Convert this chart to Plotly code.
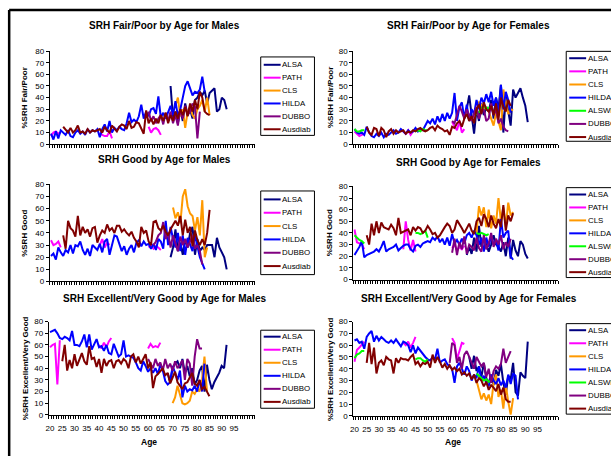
import plotly.graph_objects as go

W, H = 611, 461
FONT = "Liberation Sans, Arial, sans-serif"

TICK_AGES = list(range(20, 100, 5))
Y_TICKS = list(range(0, 90, 10))
SERIES = ["ALSA", "PATH", "CLS", "HILDA", "ALSWH", "DUBBO", "Ausdiab"]
COLORS = {"ALSA": "#000080", "PATH": "#FF00FF", "CLS": "#FF9900", "HILDA": "#0000FF",
          "ALSWH": "#00FF00", "DUBBO": "#800080", "Ausdiab": "#800000"}

# ---------- Males, Fair/Poor (segments: (first age, values)) ----------
m_fp_alsa = [(69, [50, 22, 28, 18, 30, 20, 35, 25, 30, 22, 38, 40, 45, 42, 46, 35, 44, 46, 48, 28, 30, 40, 38, 30])]
m_fp_path = [(20, [7, 10, 11, 9, 10]), (40, [10, 8, 7, 7, 11, 5]), (60, [15, 10, 13, 14, 12, 8])]
m_fp_cls = [(70, [28, 33, 40, 24, 30, 14, 28, 32, 25, 22, 30, 33, 38, 28, 40, 25])]
m_fp_hilda = [(20, [9, 4, 11, 5, 12, 10, 8, 12, 7, 6, 10, 12, 9, 11, 8, 13, 10, 12, 11, 13,
                    6, 13, 17, 11, 20, 10, 14, 12, 15, 13, 12, 18, 27, 19, 21, 19, 24, 34, 22, 28,
                    24, 30, 31, 26, 41, 23, 27, 22, 28, 33, 25, 37, 24, 30, 40, 50, 54, 48, 42, 45,
                    44, 47, 58, 45])]
m_fp_dubbo = [(60, [28, 20, 24, 18, 22, 25, 17, 27, 20, 28, 18, 25, 16, 30, 22, 33, 25, 28, 35, 32, 5, 28])]
m_fp_ausdiab = [(25, [15, 12, 10, 14, 10, 12, 16, 10, 11, 9, 13, 10, 12, 11, 12, 13, 10, 15, 12, 10,
                      16, 13, 11, 15, 17, 16, 13, 20, 14, 15, 19, 18, 14, 9, 29, 18, 22, 17, 22, 18,
                      25, 20, 27, 18, 25, 20, 28, 22, 30, 25, 32, 24, 35, 28, 38, 30, 45, 40, 28, 26, 25])]

# ---------- Females, Fair/Poor ----------
f_fp_alsa = [(66, [30, 42, 25, 9, 30, 20, 35, 25, 32, 28, 38, 22, 40, 30, 51, 10, 41, 30, 16, 47,
                   40, 44, 48, 40, 33, 19])]
f_fp_path = [(20, [11, 9, 7, 8, 9]), (40, [11, 9, 12, 8, 11]), (60, [19, 15, 12, 20, 10, 13])]
f_fp_cls = [(70, [33, 36, 34, 30, 31, 28, 22, 16, 27, 20, 12, 47, 35, 26, 30, 29])]
f_fp_hilda = [(20, [13, 10, 9, 10, 8, 15, 10, 7, 6, 9, 7, 10, 6, 9, 8, 10, 12, 9, 10, 13,
                    11, 9, 12, 10, 11, 14, 11, 13, 12, 16, 20, 18, 22, 17, 24, 19, 26, 20, 27, 22,
                    27, 44, 20, 32, 36, 22, 34, 20, 30, 26, 38, 30, 40, 35, 43, 36, 45, 33, 40, 25,
                    51, 30, 45, 38, 27])]
f_fp_alswh = [(20, [13, 11, 11, 12, 12]), (45, [11, 12, 11, 13, 12, 12]), (70, [25, 28, 31, 33, 30, 32])]
f_fp_dubbo = [(60, [20, 18, 25, 33, 28, 22, 30, 25, 20, 26, 32, 22, 28, 30, 20, 22, 35, 25, 30, 18, 22, 15, 12, 11])]
f_fp_ausdiab = [(25, [15, 10, 8, 14, 13, 7, 14, 12, 6, 11, 13, 9, 12, 10, 11, 12, 9, 11, 10, 12,
                      11, 13, 14, 12, 11, 12, 14, 15, 12, 16, 14, 13, 11, 12, 8, 15, 14, 18, 20, 15,
                      22, 26, 20, 24, 18, 30, 34, 26, 36, 30, 28, 33, 25, 35, 21, 40, 32, 28, 38, 33])]

# ---------- Males, Good ----------
m_g_alsa = [(69, [20, 28, 43, 25, 32, 22, 35, 28, 40, 45, 22, 35, 25, 28, 26, 30, 30, 30, 20, 36, 28, 24, 20, 10])]
m_g_path = [(20, [34, 30, 31, 33, 28]), (40, [30, 35, 28, 32, 30]), (60, [28, 30, 27, 29, 28, 26])]
m_g_cls = [(70, [61, 52, 57, 48, 70, 76, 62, 56, 54, 42, 53, 38, 67, 20, 28])]
m_g_hilda = [(20, [21, 23, 18, 28, 24, 21, 26, 24, 30, 23, 30, 29, 33, 26, 22, 27, 21, 30, 28, 26,
                   31, 24, 33, 35, 22, 31, 38, 37, 30, 25, 29, 22, 27, 30, 24, 32, 34, 29, 33, 30,
                   31, 27, 31, 26, 35, 33, 27, 50, 30, 45, 35, 28, 40, 25, 38, 22, 36, 30, 25, 38,
                   30, 20, 15, 10])]
m_g_dubbo = [(62, [30, 33, 38, 40, 49, 35, 40, 28, 38, 32, 25, 37, 30, 35, 28, 33, 38, 27, 30, 25, 14])]
m_g_ausdiab = [(25, [38, 27, 50, 44, 42, 37, 54, 38, 45, 40, 43, 37, 44, 45, 32, 38, 42, 40, 47, 42,
                     44, 40, 46, 46, 41, 43, 40, 38, 41, 36, 33, 28, 45, 40, 42, 33, 30, 49, 50, 44,
                     42, 46, 41, 38, 43, 47, 50, 46, 54, 38, 51, 40, 45, 29, 42, 34, 30, 35, 30, 40, 59])]

# ---------- Females, Good ----------
f_g_alsa = [(66, [21, 28, 22, 36, 24, 46, 28, 35, 30, 24, 30, 38, 30, 28, 24, 32, 20, 36, 18, 34,
                  25, 20, 33, 30, 22, 18])]
f_g_path = [(20, [43, 32, 31, 30, 26]), (40, [26, 50, 34, 25, 34, 24]), (60, [27, 30, 25, 28, 26, 29])]
f_g_cls = [(70, [40, 63, 55, 62, 45, 60, 44, 55, 48, 70, 50, 62, 45, 66, 55, 58])]
f_g_hilda = [(20, [21, 24, 28, 33, 19, 21, 22, 23, 24, 26, 24, 28, 33, 24, 26, 27, 28, 30, 25, 27,
                   29, 30, 30, 26, 24, 29, 30, 28, 31, 32, 33, 32, 36, 34, 37, 32, 35, 30, 36, 29,
                   39, 31, 34, 30, 35, 31, 38, 40, 36, 42, 38, 30, 36, 24, 36, 28, 38, 30, 34, 25,
                   52, 36, 40, 42, 20, 17])]
f_g_alswh = [(20, [38, 36, 34, 33, 31]), (45, [40, 40, 39, 40, 42, 36]), (70, [40, 39, 40, 39, 38, 39])]
f_g_dubbo = [(60, [23, 35, 21, 32, 26, 37, 22, 30, 28, 25, 36, 27, 24, 38, 26, 31, 40, 28, 35, 30,
                   38, 26, 32, 28, 35])]
f_g_ausdiab = [(25, [38, 30, 48, 38, 50, 40, 49, 45, 44, 43, 47, 44, 38, 53, 40, 41, 42, 43, 38, 45,
                     42, 45, 44, 40, 42, 46, 43, 39, 40, 36, 38, 42, 45, 48, 46, 40, 43, 51, 48, 44,
                     40, 44, 48, 42, 39, 50, 53, 46, 56, 52, 45, 55, 48, 44, 52, 45, 64, 42, 55, 50, 57])]

# ---------- Males, Excellent/Very Good ----------
m_e_alsa = [(68, [36, 28, 40, 44, 46, 40, 48, 36, 42, 33, 40, 26, 30, 38, 42, 20, 43, 30, 22, 28,
                  32, 36, 42, 40, 60])]
m_e_path = [(20, [58, 60, 61, 26, 64]), (40, [60, 57, 62, 58, 63, 66]), (60, [57, 61, 58, 59, 58, 62])]
m_e_cls = [(70, [10, 15, 25, 17, 10, 9, 10, 12, 20, 18, 22, 20, 30, 50, 20])]
m_e_hilda = [(20, [71, 72, 73, 70, 66, 65, 67, 66, 64, 72, 60, 60, 59, 63, 69, 58, 69, 56, 60, 65,
                   58, 59, 55, 60, 53, 52, 61, 55, 50, 52, 64, 50, 51, 50, 49, 45, 40, 38, 46, 42,
                   37, 40, 36, 40, 35, 43, 38, 29, 26, 28, 42, 36, 30, 38, 15, 25, 20, 22, 21, 25,
                   20, 30, 20, 44])]
m_e_dubbo = [(60, [48, 44, 40, 48, 42, 45, 38, 48, 40, 44, 38, 46, 40, 43, 47, 30, 48, 44, 25, 50, 65, 57, 57])]
m_e_ausdiab = [(25, [46, 60, 38, 47, 40, 52, 42, 48, 53, 46, 43, 59, 48, 49, 41, 48, 36, 48, 42, 46,
                     47, 40, 46, 47, 44, 48, 46, 40, 50, 52, 45, 50, 44, 48, 52, 40, 45, 23, 33, 35,
                     38, 40, 34, 36, 27, 32, 37, 28, 25, 22, 27, 28, 32, 36, 27, 25, 30, 22, 24, 20, 16])]

# ---------- Females, Excellent/Very Good ----------
f_e_alsa = [(67, [50, 40, 51, 38, 42, 33, 45, 32, 28, 35, 26, 39, 34, 44, 28, 18, 34, 31, 45, 20,
                  17, 37, 34, 32, 63])]
f_e_path = [(20, [46, 56, 58, 61, 63]), (40, [62, 60, 63, 58, 62, 67]), (60, [66, 62, 48, 55, 62, 61])]
f_e_cls = [(70, [30, 22, 14, 19, 13, 18, 10, 28, 35, 16, 22, 6, 26, 12, 1, 15])]
f_e_hilda = [(20, [64, 65, 62, 63, 57, 67, 70, 72, 63, 68, 64, 67, 65, 63, 62, 64, 62, 65, 62, 59,
                   63, 62, 60, 54, 60, 53, 58, 55, 52, 50, 48, 47, 50, 48, 57, 45, 47, 48, 44, 42,
                   40, 28, 42, 45, 40, 35, 42, 38, 30, 35, 32, 42, 30, 34, 28, 25, 35, 30, 27, 32,
                   26, 30, 24, 35, 27, 36, 34, 14])]
f_e_alswh = [(20, [49, 52, 53, 55, 55]), (45, [48, 49, 49, 47, 46, 48]), (70, [36, 34, 32, 30, 31, 29, 30])]
f_e_dubbo = [(59, [45, 62, 60, 45, 50, 40, 52, 55, 50, 45, 40, 50, 46, 42, 45, 33, 40, 28, 38, 42,
                   40, 44, 57, 45, 50, 55])]
f_e_ausdiab = [(25, [45, 62, 44, 58, 36, 45, 47, 43, 50, 48, 47, 36, 49, 45, 49, 48, 48, 47, 50, 52,
                     44, 46, 42, 45, 44, 46, 41, 52, 45, 50, 46, 41, 44, 40, 43, 39, 41, 38, 40, 35,
                     37, 34, 36, 31, 35, 28, 32, 30, 25, 29, 22, 26, 24, 21, 27, 18, 24, 14, 12, 12])]

# panel: (title, y title, series, x px domain, y px domain, title x, title y, ytitle x,
#         legend box, first legend row y, legend row step, bottom row)
panels = [
    ("SRH Fair/Poor by Age for Males", "%SRH Fair/Poor",
     {"ALSA": m_fp_alsa, "PATH": m_fp_path, "CLS": m_fp_cls, "HILDA": m_fp_hilda,
      "DUBBO": m_fp_dubbo, "Ausdiab": m_fp_ausdiab},
     (47, 253), (48, 143), 162, 22, 22, (259, 54, 313, 134), 62, 13.15, False),
    ("SRH Fair/Poor by Age for Females", "%SRH Fair/Poor",
     {"ALSA": f_fp_alsa, "PATH": f_fp_path, "CLS": f_fp_cls, "HILDA": f_fp_hilda,
      "ALSWH": f_fp_alswh, "DUBBO": f_fp_dubbo, "Ausdiab": f_fp_ausdiab},
     (352, 558), (48, 143), 468, 22, 329, (566, 48.3, 640, 140), 55.3, 13.4, False),
    ("SRH Good by Age for Males", "%SRH Good",
     {"ALSA": m_g_alsa, "PATH": m_g_path, "CLS": m_g_cls, "HILDA": m_g_hilda,
      "DUBBO": m_g_dubbo, "Ausdiab": m_g_ausdiab},
     (47, 253), (184, 283), 162, 158.5, 22, (259, 190.7, 313, 276), 199.3, 13.6, False),
    ("SRH Good by Age for Females", "%SRH Good",
     {"ALSA": f_g_alsa, "PATH": f_g_path, "CLS": f_g_cls, "HILDA": f_g_hilda,
      "ALSWH": f_g_alswh, "DUBBO": f_g_dubbo, "Ausdiab": f_g_ausdiab},
     (352, 558), (186, 281), 468, 161.5, 329, (566, 187.3, 640, 279), 194.3, 13.2, False),
    ("SRH Excellent/Very Good by Age for Males", "%SRH Excellent/Very Good",
     {"ALSA": m_e_alsa, "PATH": m_e_path, "CLS": m_e_cls, "HILDA": m_e_hilda,
      "DUBBO": m_e_dubbo, "Ausdiab": m_e_ausdiab},
     (46, 253), (324, 419), 162, 300, 22, (259, 332.7, 313, 412.3), 339.3, 13.3, True),
    ("SRH Excellent/Very Good by Age for Females", "%SRH Excellent/Very Good",
     {"ALSA": f_e_alsa, "PATH": f_e_path, "CLS": f_e_cls, "HILDA": f_e_hilda,
      "ALSWH": f_e_alswh, "DUBBO": f_e_dubbo, "Ausdiab": f_e_ausdiab},
     (352, 558), (324, 420), 468, 300, 329, (566, 326, 640, 418.3), 332.7, 13.33, True),
]


def px(x):
    return x / W


def py(y):
    return 1 - y / H


def build(segments):
    xs, ys = [], []
    for start, vals in segments:
        if xs:
            xs.append(None)
            ys.append(None)
        xs.extend(range(start, start + len(vals)))
        ys.extend(vals)
    return xs, ys


fig = go.Figure()
layout = dict(width=W, height=H, margin=dict(l=0, r=0, t=0, b=0), paper_bgcolor="white",
              plot_bgcolor="white", showlegend=False, font=dict(family=FONT, color="black"))
annotations, shapes = [], []

for i, (title, ytitle, data, xd, yd, tx, ty, ytx, lbox, ly0, ldy, bottom) in enumerate(panels):
    n = "" if i == 0 else str(i + 1)
    for name in SERIES:
        if name not in data:
            continue
        xs, ys = build(data[name])
        fig.add_trace(go.Scatter(x=xs, y=ys, mode="lines", name=name, connectgaps=False,
                                 line=dict(color=COLORS[name], width=2),
                                 xaxis="x" + n, yaxis="y" + n, hoverinfo="skip"))
    layout["xaxis" + n] = dict(
        domain=[px(xd[0]), px(xd[1])], range=[19.5, 103.5], anchor="y" + n,
        showline=True, linecolor="black", linewidth=1, showgrid=False, zeroline=False,
        tickmode="array", tickvals=TICK_AGES, ticks="", showticklabels=bottom,
        ticklabelstandoff=6,
        tickfont=dict(size=8, family=FONT, color="black"),
        minor=dict(tickmode="array", tickvals=[19.5 + k for k in range(85)], ticks="outside",
                   ticklen=3, tickcolor="black", tickwidth=1, showgrid=False))
    layout["yaxis" + n] = dict(
        domain=[py(yd[1]), py(yd[0])], range=[0, 80], anchor="x" + n,
        showline=True, linecolor="black", linewidth=1, showgrid=False, zeroline=False,
        tickmode="array", tickvals=Y_TICKS, ticks="outside", ticklen=3, tickcolor="black",
        tickfont=dict(size=8, family=FONT, color="black"))
    annotations.append(dict(text="<b>%s</b>" % title, x=px(tx), y=py(ty), xref="paper", yref="paper",
                            showarrow=False, xanchor="center", yanchor="middle",
                            font=dict(size=10, family=FONT, color="black")))
    annotations.append(dict(text="<b>%s</b>" % ytitle, x=px(ytx), y=py((yd[0] + yd[1]) / 2),
                            xref="paper", yref="paper", showarrow=False, textangle=-90,
                            xanchor="center", yanchor="middle",
                            font=dict(size=8, family=FONT, color="black")))
    if bottom:
        annotations.append(dict(text="<b>Age</b>", x=px((xd[0] + xd[1]) / 2 - 3), y=py(447),
                                xref="paper", yref="paper", showarrow=False,
                                xanchor="center", yanchor="middle",
                                font=dict(size=8.5, family=FONT, color="black")))
    # legend box
    shapes.append(dict(type="rect", xref="paper", yref="paper", x0=px(lbox[0]), x1=px(lbox[2]),
                       y0=py(lbox[1]), y1=py(lbox[3]), line=dict(color="black", width=1),
                       fillcolor="white", layer="above"))
    k = 0
    for name in SERIES:
        if name not in data:
            continue
        yy = ly0 + k * ldy
        shapes.append(dict(type="line", xref="paper", yref="paper", x0=px(lbox[0] + 3),
                           x1=px(lbox[0] + 20), y0=py(yy), y1=py(yy),
                           line=dict(color=COLORS[name], width=2), layer="above"))
        annotations.append(dict(text=name, x=px(lbox[0] + 19.5), y=py(yy), xref="paper", yref="paper",
                                showarrow=False, xanchor="left", yanchor="middle",
                                font=dict(size=7.9, family=FONT, color="black")))
        k += 1

# outer frame (top and left edges visible)
shapes.append(dict(type="line", xref="paper", yref="paper", x0=px(6.2), x1=1.0, y0=py(6.2), y1=py(6.2),
                   line=dict(color="black", width=2.5)))
shapes.append(dict(type="line", xref="paper", yref="paper", x0=px(6.2), x1=px(6.2), y0=py(6.2), y1=0.0,
                   line=dict(color="black", width=2.5)))

layout["annotations"] = annotations
layout["shapes"] = shapes
fig.update_layout(**layout)
fig.write_html("out.html", config={"displayModeBar": False},
               post_script="document.body.style.margin='0';document.body.style.overflow='hidden';")
